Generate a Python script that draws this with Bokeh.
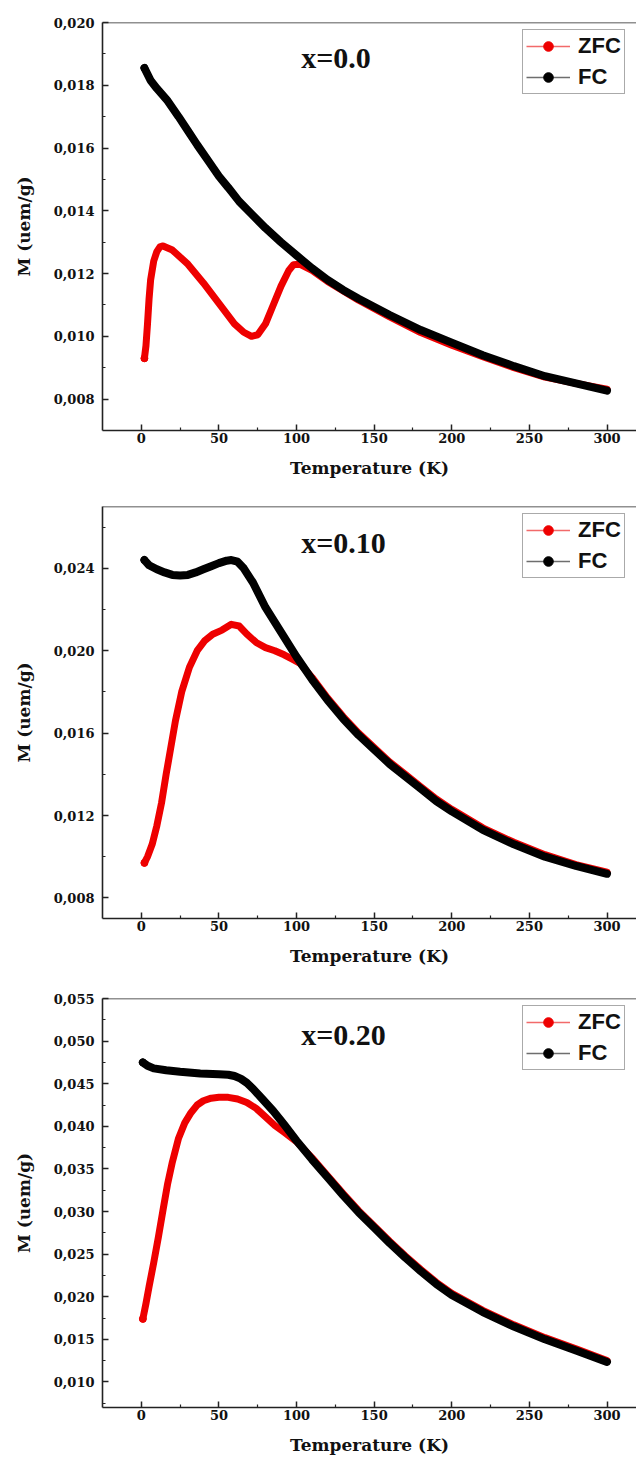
from bokeh.plotting import figure
from bokeh.layouts import column
from bokeh.models import (Range1d, FixedTicker, CustomJSTickFormatter, Span, Label,
                          Legend, LegendItem)
from bokeh.embed import file_html
from bokeh.resources import INLINE

# ---------------- data ----------------
# x = 0.0
t1_zfc = [2, 3, 4, 5, 6, 8, 10, 12, 14, 20, 30, 40, 50, 60, 66, 71, 75, 80, 85, 90, 95, 98,
          102, 110, 120, 140, 160, 180, 200, 220, 240, 260, 280, 300]
m1_zfc = [0.0093, 0.0097, 0.0104, 0.0112, 0.0118, 0.0124, 0.0127, 0.01285, 0.01288, 0.01275,
          0.0123, 0.0117, 0.01105, 0.0104, 0.01013, 0.0100, 0.01005, 0.0104, 0.0110, 0.0116,
          0.0121, 0.01228, 0.0123, 0.0121, 0.01175, 0.01115, 0.01062, 0.01012, 0.00972,
          0.00935, 0.00900, 0.00870, 0.00850, 0.00832]
t1_fc = [2, 6, 10, 17, 24, 30, 36, 43, 50, 56, 63, 71, 80, 90, 100, 110, 120, 130, 140, 160,
         180, 200, 220, 240, 260, 280, 300]
m1_fc = [0.01855, 0.01815, 0.0179, 0.0175, 0.0170, 0.01655, 0.0161, 0.0156, 0.0151, 0.01474,
         0.0143, 0.0139, 0.01345, 0.0130, 0.01258, 0.01217, 0.0118, 0.01148, 0.0112, 0.01068,
         0.0102, 0.0098, 0.0094, 0.00905, 0.00873, 0.0085, 0.00827]

# x = 0.10
t2_zfc = [2, 4, 7, 10, 13, 16, 19, 22, 26, 31, 36, 41, 46, 52, 58, 63, 68, 74, 80, 86, 92, 97,
          102, 110, 120, 130, 140, 150, 160, 170, 180, 190, 200, 220, 240, 260, 280, 300]
m2_zfc = [0.0097, 0.0100, 0.0106, 0.0115, 0.0126, 0.0140, 0.0153, 0.0166, 0.0180, 0.0192,
          0.0200, 0.0205, 0.0208, 0.0210, 0.02128, 0.0212, 0.0208, 0.0204, 0.02015, 0.0200,
          0.0198, 0.0196, 0.0194, 0.0187, 0.0177, 0.0168, 0.0160, 0.0153, 0.0146, 0.0140,
          0.0134, 0.0128, 0.0123, 0.0114, 0.0107, 0.0101, 0.00962, 0.00925]
t2_fc = [2, 5, 10, 15, 20, 25, 30, 35, 40, 45, 50, 55, 58, 62, 66, 72, 80, 90, 100, 110, 120,
         130, 140, 150, 160, 170, 180, 190, 200, 220, 240, 260, 280, 300]
m2_fc = [0.02440, 0.02415, 0.02395, 0.0238, 0.02368, 0.02365, 0.02368, 0.0238, 0.02395,
         0.0241, 0.02425, 0.02437, 0.0244, 0.02432, 0.0240, 0.0233, 0.0221, 0.0209, 0.0197,
         0.0186, 0.0176, 0.0167, 0.0159, 0.0152, 0.0145, 0.0139, 0.0133, 0.0127, 0.0122,
         0.0113, 0.0106, 0.0100, 0.00955, 0.00917]

# x = 0.20
t3_zfc = [1, 3, 5, 8, 11, 14, 17, 20, 24, 28, 32, 36, 40, 45, 50, 56, 62, 68, 74, 80, 86, 92,
          100, 110, 120, 130, 140, 150, 160, 170, 180, 190, 200, 220, 240, 260, 280, 300]
m3_zfc = [0.0174, 0.0192, 0.0212, 0.0240, 0.0270, 0.0302, 0.0333, 0.0358, 0.0386, 0.0404,
          0.0416, 0.0425, 0.0430, 0.0433, 0.0434, 0.0434, 0.0432, 0.0428, 0.0421, 0.0411,
          0.0401, 0.0393, 0.0382, 0.0363, 0.0342, 0.0321, 0.0301, 0.0283, 0.0265, 0.0248,
          0.0232, 0.0217, 0.0204, 0.0184, 0.0167, 0.0152, 0.0139, 0.0125]
t3_fc = [1, 4, 8, 16, 25, 38, 50, 56, 60, 64, 68, 72, 78, 85, 92, 100, 110, 120, 130, 140, 150,
         160, 170, 180, 190, 200, 220, 240, 260, 280, 300]
m3_fc = [0.0475, 0.0471, 0.0468, 0.04658, 0.0464, 0.0462, 0.04612, 0.04605, 0.0459, 0.0456,
         0.0451, 0.0444, 0.0432, 0.0418, 0.0402, 0.0383, 0.0361, 0.0340, 0.0319, 0.0299,
         0.0281, 0.0263, 0.0246, 0.0230, 0.0215, 0.0202, 0.0182, 0.0165, 0.0150, 0.0137,
         0.01235]

x_ticks = [0, 50, 100, 150, 200, 250, 300]
x_minor = [25, 75, 125, 175, 225, 275]

panels = [
    dict(tz=t1_zfc, mz=m1_zfc, tf=t1_fc, mf=m1_fc, y0=0.007, y1=0.020,
         yt=[0.008, 0.010, 0.012, 0.014, 0.016, 0.018, 0.020],
         ym=[0.009, 0.011, 0.013, 0.015, 0.017, 0.019],
         title="x=0.0", title_y=0.01887, h=490, bt=22, bb=60),
    dict(tz=t2_zfc, mz=m2_zfc, tf=t2_fc, mf=m2_fc, y0=0.007, y1=0.027,
         yt=[0.008, 0.012, 0.016, 0.020, 0.024],
         ym=[0.010, 0.014, 0.018, 0.022, 0.026],
         title="x=0.10", title_y=0.02526, h=488, bt=16, bb=60),
    dict(tz=t3_zfc, mz=m3_zfc, tf=t3_fc, mf=m3_fc, y0=0.007, y1=0.055,
         yt=[0.010, 0.015, 0.020, 0.025, 0.030, 0.035, 0.040, 0.045, 0.050, 0.055],
         ym=[0.0075, 0.0125, 0.0175, 0.0225, 0.0275, 0.0325, 0.0375, 0.0425, 0.0475, 0.0525],
         title="x=0.20", title_y=0.05081, h=484, bt=20, bb=55),
]

AX = "#222222"
figs = []
for d in panels:
    p = figure(width=636, height=d["h"], output_backend="svg", toolbar_location=None,
               title=None, x_range=Range1d(-25, 319), y_range=Range1d(d["y0"], d["y1"]),
               min_border_left=102, min_border_right=0, min_border_top=d["bt"],
               min_border_bottom=d["bb"])
    p.outline_line_color = None
    p.grid.visible = False
    p.background_fill_color = "white"

    for ax in (p.xaxis[0], p.yaxis[0]):
        ax.axis_line_color = AX
        ax.axis_line_width = 1.6
        ax.major_tick_line_color = AX
        ax.minor_tick_line_color = AX
        ax.major_tick_line_width = 1.5
        ax.minor_tick_line_width = 1.2
        ax.major_tick_in = 6
        ax.major_tick_out = 0
        ax.minor_tick_in = 3
        ax.minor_tick_out = 0
        ax.major_label_text_font = "DejaVu Serif"
        ax.major_label_text_font_style = "bold"
        ax.major_label_text_font_size = "13px"
        ax.major_label_text_color = "#111111"
        ax.axis_label_text_font = "DejaVu Serif"
        ax.axis_label_text_font_style = "bold"
        ax.axis_label_text_color = "#111111"

    p.xaxis.ticker = FixedTicker(ticks=x_ticks, minor_ticks=x_minor)
    p.xaxis.axis_label = "Temperature (K)"
    p.xaxis.axis_label_text_font_size = "17px"
    p.xaxis.major_label_standoff = 2
    p.xaxis.axis_label_standoff = 12

    p.yaxis.ticker = FixedTicker(ticks=d["yt"], minor_ticks=d["ym"])
    p.yaxis.formatter = CustomJSTickFormatter(code="return tick.toFixed(3).replace('.', ',');")
    p.yaxis.axis_label = "M (uem/g)"
    p.yaxis.axis_label_text_font_size = "17px"
    p.yaxis.major_label_standoff = 8
    p.yaxis.axis_label_standoff = 17

    p.add_layout(Span(location=d["y1"], dimension="width", line_color=AX, line_width=1.6))

    z_thin = p.line(d["tz"], d["mz"], line_color="#f26a6a", line_width=1.5)
    z_dot = p.scatter(d["tz"][:1], d["mz"][:1], size=7, color="#ee0000")
    p.line(d["tz"], d["mz"], line_color="#ee0000", line_width=7,
           line_cap="round", line_join="round")
    f_thin = p.line(d["tf"], d["mf"], line_color="#6e6e6e", line_width=1.5)
    f_dot = p.scatter(d["tf"][:1], d["mf"][:1], size=7, color="black")
    p.line(d["tf"], d["mf"], line_color="black", line_width=8,
           line_cap="round", line_join="round")

    p.add_layout(Label(x=103, y=d["title_y"], text=d["title"], text_font="Liberation Serif",
                       text_font_style="bold", text_font_size="30px", text_color="#111111",
                       text_align="left", text_baseline="alphabetic"))

    frame_h = d["h"] - d["bt"] - d["bb"]
    leg = Legend(items=[LegendItem(label="ZFC", renderers=[z_thin, z_dot]),
                        LegendItem(label="FC", renderers=[f_thin, f_dot])],
                 location=(420, frame_h - 9 - 63), margin=0, padding=3, spacing=5,
                 glyph_width=44, glyph_height=24, label_height=24, label_standoff=8,
                 label_text_font="Liberation Sans", label_text_font_style="bold",
                 label_text_font_size="22px", label_text_color="#111111",
                 border_line_color="#555555", border_line_width=1.2,
                 background_fill_color="white", background_fill_alpha=1.0)
    p.add_layout(leg)
    figs.append(p)

layout = column(*figs, spacing=0)
open("out.html", "w").write(file_html(layout, INLINE))
